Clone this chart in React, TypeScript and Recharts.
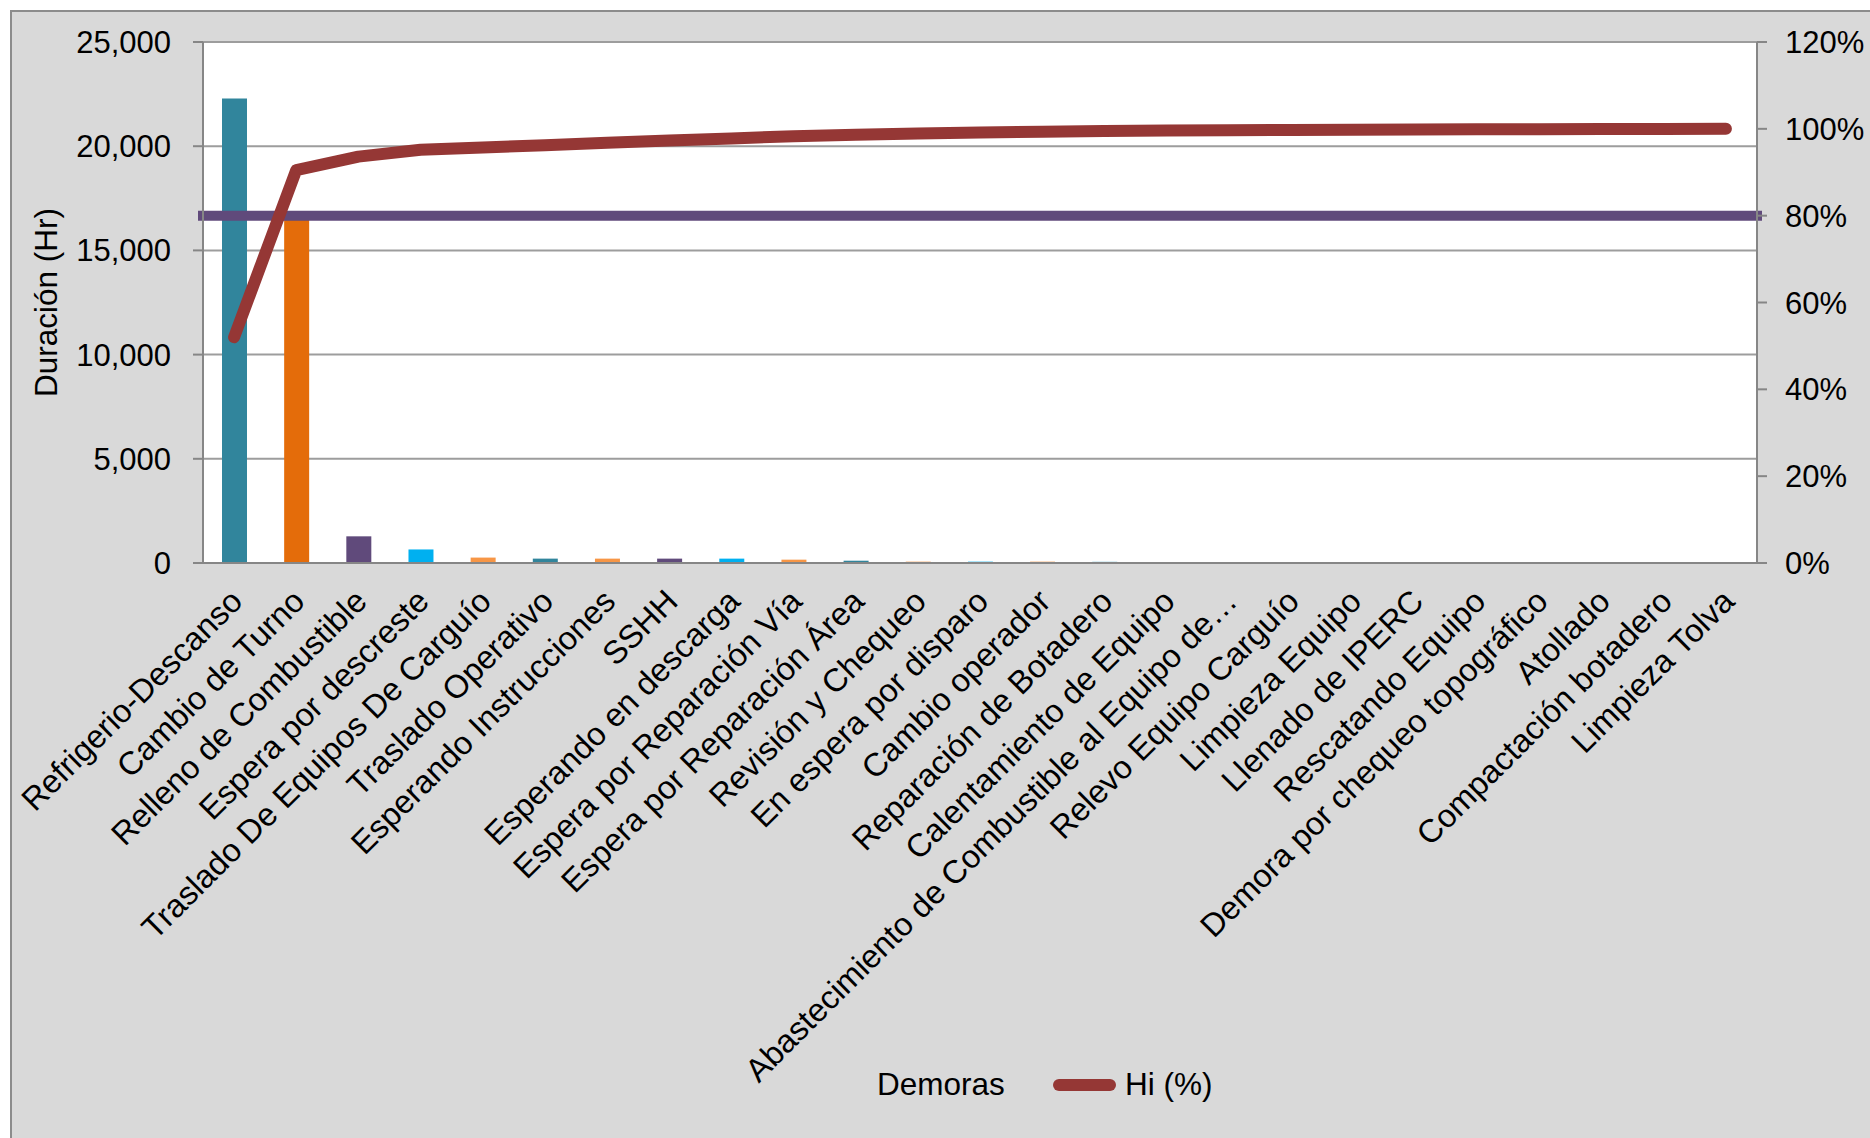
import React from "react";
import {
  ComposedChart,
  Bar,
  Line,
  Cell,
  XAxis,
  YAxis,
  CartesianGrid,
  ReferenceLine,
} from "recharts";

// Pareto de demoras: duración (Hr) por demora + acumulado Hi (%)

const FONT = '"Liberation Sans", Arial, sans-serif';

const demoras = [
  "Refrigerio-Descanso",
  "Cambio de Turno",
  "Relleno de Combustible",
  "Espera por descreste",
  "Traslado De Equipos De Carguío",
  "Traslado Operativo",
  "Esperando Instrucciones",
  "SSHH",
  "Esperando en descarga",
  "Espera por Reparación Vía",
  "Espera por Reparación Área",
  "Revisión y Chequeo",
  "En espera por disparo",
  "Cambio operador",
  "Reparación de Botadero",
  "Calentamiento de Equipo",
  "Abastecimiento de Combustible al Equipo de…",
  "Relevo Equipo Carguío",
  "Limpieza Equipo",
  "Llenado de IPERC",
  "Rescatando Equipo",
  "Demora por chequeo topográfico",
  "Atollado",
  "Compactación botadero",
  "Limpieza Tolva",
];

const duracionHr = [
  22290, 16500, 1280, 650, 260, 210, 210, 210, 210, 160, 110, 64, 64, 64, 64,
  16, 12, 10, 9, 8, 7, 6, 5, 4, 3,
];

const hiPct = [
  0.52, 0.905, 0.936, 0.952, 0.957, 0.962, 0.968, 0.973, 0.978, 0.983, 0.9865,
  0.989, 0.9915, 0.9935, 0.995, 0.996, 0.997, 0.9975, 0.998, 0.9985, 0.999,
  0.9993, 0.9996, 0.9998, 1.0,
];

const barColors = [
  "#31859C", "#E46C0A", "#604A7B", "#00B0F0", "#F79646", "#31859C", "#F79646",
  "#604A7B", "#00B0F0", "#F79646", "#31859C", "#F79646", "#00B0F0", "#F79646",
  "#93CDDD", "#B59A80", "#B3A2C7", "#4BACC6", "#F79646", "#8064A2", "#00B0F0",
  "#E46C0A", "#31859C", "#604A7B", "#F79646",
];

const durTicks = [0, 5000, 10000, 15000, 20000, 25000];
const pctTicks = [0, 0.2, 0.4, 0.6, 0.8, 1.0, 1.2];
const META = 0.8;

const data = demoras.map((name, i) => ({
  name,
  hrs: duracionHr[i],
  hi: hiPct[i],
}));

const AXIS_GREY = "#868686";

function CategoryTick(props: any) {
  const { x, y, payload } = props;
  return (
    <text
      transform={`translate(${x - 6},${y}) rotate(-45)`}
      textAnchor="end"
      dy="0.71em"
      fontSize={32.5}
      fontFamily={FONT}
      fill="#000"
    >
      {payload.value}
    </text>
  );
}

function AxisTitle(props: any) {
  const { viewBox } = props;
  const cx = viewBox.x - 57;
  const cy = viewBox.y + viewBox.height / 2;
  return (
    <text
      x={cx}
      y={cy}
      transform={`rotate(-90, ${cx}, ${cy})`}
      textAnchor="middle"
      dominantBaseline="central"
      fontSize={31.5}
      fontFamily={FONT}
      fill="#000"
    >
      Duración (Hr)
    </text>
  );
}

export default function App() {
  const tickStyle = { fontSize: 31, fontFamily: FONT, fill: "#000" };
  return (
    <div
      style={{
        position: "absolute",
        left: 0,
        top: 0,
        width: 1870,
        height: 1138,
        overflow: "hidden",
        background: "#fff",
      }}
    >
      <div
        style={{
          position: "absolute",
          left: 10,
          top: 10,
          width: 1870,
          height: 1138,
          background: "#d9d9d9",
          borderLeft: "2px solid #8c8c8c",
          borderTop: "2px solid #8c8c8c",
        }}
      />
      <div style={{ position: "absolute", left: 0, top: 0 }}>
        <ComposedChart
          width={1870}
          height={1138}
          data={data}
          margin={{ top: 42, right: 13, bottom: 75, left: 103 }}
        >
          <CartesianGrid
            yAxisId="dur"
            vertical={false}
            stroke="#9d9d9d"
            strokeWidth={2}
            fill="#ffffff"
            fillOpacity={1}
          />
          <XAxis
            dataKey="name"
            interval={0}
            height={500}
            tickLine={false}
            tickSize={0}
            tickMargin={24}
            tick={<CategoryTick />}
            axisLine={{ stroke: AXIS_GREY, strokeWidth: 2 }}
          />
          <YAxis
            yAxisId="dur"
            domain={[0, 25000]}
            ticks={durTicks}
            width={100}
            tickSize={10}
            tickMargin={22}
            tick={tickStyle}
            tickFormatter={(v: number) => v.toLocaleString("en-US")}
            tickLine={{ stroke: AXIS_GREY, strokeWidth: 2 }}
            axisLine={{ stroke: AXIS_GREY, strokeWidth: 2 }}
            label={{ content: <AxisTitle /> }}
          />
          <YAxis
            yAxisId="pct"
            orientation="right"
            domain={[0, 1.2]}
            ticks={pctTicks}
            width={100}
            tickSize={10}
            tickMargin={18}
            tick={{ ...tickStyle, textAnchor: "start" }}
            tickFormatter={(v: number) => `${Math.round(v * 100)}%`}
            tickLine={{ stroke: AXIS_GREY, strokeWidth: 2 }}
            axisLine={{ stroke: AXIS_GREY, strokeWidth: 2 }}
          />
          <Bar
            yAxisId="dur"
            dataKey="hrs"
            name="Demoras"
            barSize={25}
            isAnimationActive={false}
          >
            {data.map((d, i) => (
              <Cell key={d.name} fill={barColors[i]} />
            ))}
          </Bar>
          <ReferenceLine
            yAxisId="pct"
            y={META}
            stroke="#604A7B"
            strokeWidth={10}
            strokeLinecap="square"
          />
          <Line
            yAxisId="pct"
            dataKey="hi"
            name="Hi (%)"
            type="linear"
            stroke="#953735"
            strokeWidth={12}
            strokeLinecap="round"
            strokeLinejoin="round"
            dot={false}
            activeDot={false}
            isAnimationActive={false}
          />
        </ComposedChart>
      </div>
      {/* leyenda */}
      <div
        style={{
          position: "absolute",
          left: 877,
          top: 1069,
          fontFamily: FONT,
          fontSize: 31.5,
          lineHeight: "31px",
          color: "#000",
          whiteSpace: "nowrap",
        }}
      >
        Demoras
      </div>
      <div
        style={{
          position: "absolute",
          left: 1053,
          top: 1079,
          width: 63,
          height: 12,
          borderRadius: 6,
          background: "#953735",
        }}
      />
      <div
        style={{
          position: "absolute",
          left: 1125,
          top: 1069,
          fontFamily: FONT,
          fontSize: 31.5,
          lineHeight: "31px",
          color: "#000",
          whiteSpace: "nowrap",
        }}
      >
        Hi (%)
      </div>
    </div>
  );
}
